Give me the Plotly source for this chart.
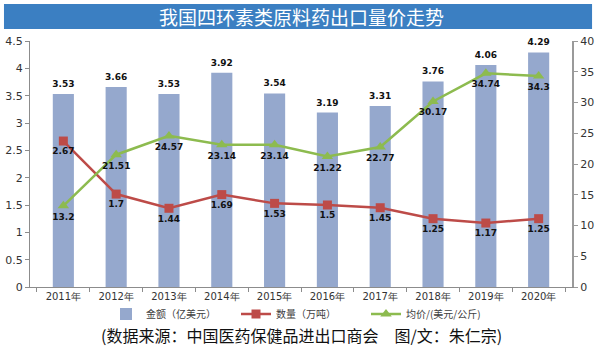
import plotly.graph_objects as go

years = ["2011年", "2012年", "2013年", "2014年", "2015年", "2016年", "2017年", "2018年", "2019年", "2020年"]
amount = [3.53, 3.66, 3.53, 3.92, 3.54, 3.19, 3.31, 3.76, 4.06, 4.29]
quantity = [2.67, 1.7, 1.44, 1.69, 1.53, 1.5, 1.45, 1.25, 1.17, 1.25]
price = [13.2, 21.51, 24.57, 23.14, 23.14, 21.22, 22.77, 30.17, 34.74, 34.3]

left_ticks = [0, 0.5, 1, 1.5, 2, 2.5, 3, 3.5, 4, 4.5]
left_labels = ["0", "0.5", "1", "1.5", "2", "2.5", "3", "3.5", "4", "4.5"]
right_ticks = [0, 5, 10, 15, 20, 25, 30, 35, 40]

label_font = dict(family="DejaVu Sans", size=9, color="#111111")
cjk = "Noto Sans CJK SC"

fig = go.Figure()
fig.add_trace(go.Bar(
    x=years, y=amount, name="金额（亿美元）",
    marker=dict(color="#95a8cd", line=dict(width=0)),
    width=0.4,
))
fig.add_trace(go.Scatter(
    x=years, y=amount, mode="markers+text", showlegend=False, hoverinfo="skip",
    marker=dict(size=6, color="rgba(0,0,0,0)"),
    text=[f"<b>{v}</b>" for v in amount], textposition="top center",
    textfont=label_font, cliponaxis=False,
))
fig.add_trace(go.Scatter(
    x=years, y=quantity, name="数量（万吨）", mode="lines+markers+text",
    line=dict(color="#bd4b48", width=2.5),
    marker=dict(symbol="square", size=9, color="#bd4b48"),
    text=[f"<b>{v}</b>" for v in quantity], textposition="bottom center",
    textfont=label_font, cliponaxis=False,
))
fig.add_trace(go.Scatter(
    x=years, y=price, name="均价/(美元/公斤)", mode="lines+markers+text",
    yaxis="y2",
    line=dict(color="#8dbb4f", width=2.5),
    marker=dict(symbol="triangle-up", size=10, color="#8dbb4f"),
    text=[f"<b>{v}</b>" for v in price], textposition="bottom center",
    textfont=label_font, cliponaxis=False,
))

fig.update_layout(
    width=600, height=351,
    margin=dict(l=30, r=28, t=41, b=64, autoexpand=False),
    paper_bgcolor="white", plot_bgcolor="white",
    showlegend=True,
    legend=dict(orientation="h", x=0.5, xanchor="center", y=-0.11, yanchor="middle",
                font=dict(family=cjk, size=10, color="#404040"),
                entrywidth=85, itemwidth=30,
                tracegroupgap=0, bgcolor="rgba(0,0,0,0)"),
    xaxis=dict(
        type="category", showgrid=False, showline=True, linecolor="#8c8c8c", linewidth=1,
        ticks="outside", ticklen=4, tickcolor="#8c8c8c", tickson="boundaries",
        tickfont=dict(family="DejaVu Sans", size=10, color="#333333"), automargin=False,
    ),
    yaxis=dict(
        range=[0, 4.5], tickvals=left_ticks, ticktext=left_labels, showgrid=False,
        showline=True, linecolor="#8c8c8c", linewidth=1, ticks="outside", ticklen=4,
        tickcolor="#8c8c8c", tickfont=dict(family="DejaVu Sans", size=11, color="#333333"),
        zeroline=False, automargin=False,
    ),
    yaxis2=dict(
        range=[0, 40], tickvals=right_ticks, overlaying="y", side="right", showgrid=False,
        showline=True, linecolor="#9a9a9a", linewidth=2, ticks="outside", ticklen=4,
        tickcolor="#9a9a9a", tickfont=dict(family="DejaVu Sans", size=11, color="#333333"),
        zeroline=False, automargin=False,
    ),
    shapes=[dict(type="rect", xref="paper", yref="paper",
                 x0=-0.048, x1=1.037, y0=1.049, y1=1.150,
                 fillcolor="#3b7fc2", line=dict(width=0), layer="below")],
    annotations=[
        dict(text="我国四环素类原料药出口量价走势", xref="paper", yref="paper",
             x=0.5, y=1.0995, xanchor="center", yanchor="middle", showarrow=False,
             font=dict(family=cjk, size=19, color="white")),
        dict(text="(数据来源：中国医药保健品进出口商会　图/文：朱仁宗)", xref="paper", yref="paper",
             x=0.5, y=-0.195, xanchor="center", yanchor="middle", showarrow=False,
             font=dict(family=cjk, size=16, color="#111111")),
    ],
)

fig.write_html("out.html")
